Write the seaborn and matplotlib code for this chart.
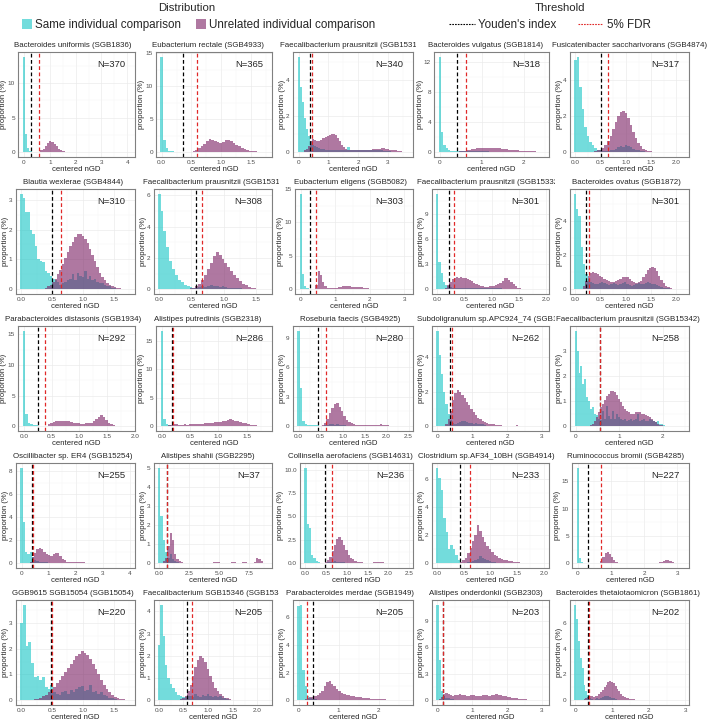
import numpy as np
import pandas as pd
import matplotlib
matplotlib.use("Agg")
import matplotlib.pyplot as plt
import seaborn as sns
from matplotlib.patches import Patch
from matplotlib.lines import Line2D
from matplotlib.ticker import AutoMinorLocator
from matplotlib.transforms import Bbox, TransformedBbox

titles = [
    "Bacteroides uniformis (SGB1836)", "Eubacterium rectale (SGB4933)",
    "Faecalibacterium prausnitzii (SGB15316)", "Bacteroides vulgatus (SGB1814)",
    "Fusicatenibacter saccharivorans (SGB4874)",
    "Blautia wexlerae (SGB4844)", "Faecalibacterium prausnitzii (SGB15318)",
    "Eubacterium eligens (SGB5082)", "Faecalibacterium prausnitzii (SGB15332)",
    "Bacteroides ovatus (SGB1872)",
    "Parabacteroides distasonis (SGB1934)", "Alistipes putredinis (SGB2318)",
    "Roseburia faecis (SGB4925)", "Subdoligranulum sp.APC924_74 (SGB15286)",
    "Faecalibacterium prausnitzii (SGB15342)",
    "Oscillibacter sp. ER4 (SGB15254)", "Alistipes shahii (SGB2295)",
    "Collinsella aerofaciens (SGB14631)", "Clostridium sp.AF34_10BH (SGB4914)",
    "Ruminococcus bromii (SGB4285)",
    "GGB9615 SGB15054 (SGB15054)", "Faecalibacterium SGB15346 (SGB15346)",
    "Parabacteroides merdae (SGB1949)", "Alistipes onderdonkii (SGB2303)",
    "Bacteroides thetaiotaomicron (SGB1861)",
]
n_pairs = [370, 365, 340, 318, 317, 310, 308, 303, 301, 301, 292, 286, 280, 262, 258,
           255, 37, 236, 233, 227, 220, 205, 205, 203, 202]
youden = [0.28, 0.35, 0.40, 0.40, 0.50, 0.50, 0.57, 0.28, 0.22, 0.22, 0.25, 0.18, 0.45, 0.35, 0.55,
          0.40, 0.65, 0.47, 0.42, 0.30, 0.48, 0.57, 0.35, 0.15, 0.35]
fdr = [0.60, 0.60, 0.45, 0.63, 0.65, 0.65, 0.67, 0.45, 0.30, 0.28, 0.38, 0.19, 0.62, 0.42, 0.56,
       0.41, 0.66, 0.63, 0.62, 0.70, 0.49, 0.67, 0.20, 0.16, 0.36]
x_lo = [-0.22, -0.09, -0.19, -0.13, -0.11, -0.09, -0.08, -0.16, -0.1, -0.1, -0.1, -0.1, -0.13, -0.16, -0.13,
        -0.21, -0.45, -0.13, -0.1, -0.16, -0.09, -0.1, -0.14, -0.16, -0.15]
x_hi = [4.3, 1.85, 3.85, 2.6, 2.25, 1.85, 1.75, 3.25, 2.05, 2.25, 2.0, 1.95, 2.6, 3.2, 2.6,
        4.2, 9.4, 2.6, 2.1, 3.35, 1.85, 2.3, 2.85, 3.2, 3.1]
x_ticks = [
    [0, 1, 2, 3, 4], [0, 0.5, 1, 1.5], [0, 1, 2, 3], [0, 1, 2], [0, 0.5, 1, 1.5, 2],
    [0, 0.5, 1, 1.5], [0, 0.5, 1, 1.5], [0, 1, 2, 3], [0, 0.5, 1, 1.5, 2], [0, 0.5, 1, 1.5, 2],
    [0, 0.5, 1, 1.5, 2], [0, 0.5, 1, 1.5], [0, 0.5, 1, 1.5, 2, 2.5], [0, 1, 2, 3], [0, 1, 2],
    [0, 1, 2, 3, 4], [0, 2.5, 5, 7.5], [0, 0.5, 1, 1.5, 2, 2.5], [0, 0.5, 1, 1.5, 2], [0, 1, 2, 3],
    [0, 0.5, 1, 1.5], [0, 0.5, 1, 1.5, 2], [0, 1, 2], [0, 1, 2, 3], [0, 1, 2, 3],
]
y_ticks = [
    [0, 5, 10], [0, 5, 10, 15], [0, 2, 4], [0, 4, 8, 12], [0, 2, 4],
    [0, 1, 2, 3], [0, 2, 4, 6], [0, 5, 10, 15], [0, 3, 6, 9], [0, 2, 4],
    [0, 5, 10, 15], [0, 5, 10, 15], [0, 3, 6, 9], [0, 2, 4], [0, 1, 2, 3],
    [0, 2, 4, 6, 8], [0, 1, 2, 3, 4, 5], [0, 2.5, 5, 7.5, 10], [0, 2, 4, 6], [0, 5, 10, 15],
    [0, 1, 2, 3], [0, 1, 2, 3, 4], [0, 2, 4, 6], [0, 3, 6, 9], [0, 2, 4, 6],
]
bin_widths = [0.085, 0.045, 0.07, 0.055, 0.05, 0.04, 0.045, 0.065, 0.04, 0.045,
              0.045, 0.045, 0.055, 0.065, 0.045, 0.085, 0.19, 0.055, 0.045, 0.065,
              0.045, 0.05, 0.06, 0.065, 0.05]
unrel_offset = [6, 10, 3, 8, 8, 10, 11, 6, 4, 4, 9, 3, 10, 4, 8, 4, 2, 9, 10, 10, 5, 9, 2, 1, 4]

# proportion (%) per bin, same-individual pairs (first bin centred on 0)
same_h = [
    [13.8, 2.7, 0.6, 0.2, 0.1, 0.05],
    [14.5, 1.9, 0.6, 0.25, 0.15, 0.1, 0.05, 0.05, 0.05, 0.05, 0.05, 0.05, 0.1, 0.1, 0.1, 0.1, 0.1, 0.1, 0.1, 0.1, 0.05, 0.05],
    [5.3, 3.6, 2.8, 1.9, 1.3, 0.9, 0.6, 0.4, 0.35, 0.3, 0.25, 0.2, 0.2, 0.15, 0.15, 0.1, 0.1, 0.1, 0.1, 0.1,
     0.1, 0.1, 0.1, 0.1, 0.3, 0.1, 0.1, 0.1, 0.1, 0.1, 0.15, 0.1, 0.1, 0.1, 0.1, 0.1, 0.1, 0.15, 0.1, 0.1,
     0.1, 0.05, 0.05, 0.05, 0.05],
    [12.7, 2.7, 1.0, 0.5, 0.3, 0.2, 0.15, 0.1, 0.1, 0.1, 0.1, 0.1, 0.1, 0.1, 0.1, 0.1, 0.1, 0.1, 0.1, 0.1,
     0.1, 0.1, 0.05, 0.05, 0.05, 0.05],
    [5.1, 5.3, 3.6, 2.4, 1.4, 0.9, 0.55, 0.4, 0.25, 0.15, 0.1, 0.08, 0.05, 0.05, 0.1, 0.15, 0.2, 0.3, 0.35, 0.3,
     0.4, 0.35, 0.3, 0.2, 0.15, 0.1, 0.08, 0.05],
    [3.2, 3.05, 2.6, 2.6, 2.0, 1.85, 1.45, 1.0, 0.95, 0.9, 0.6, 0.55, 0.45, 0.35, 0.3, 0.25, 0.15, 0.2, 0.25, 0.3,
     0.35, 0.5, 0.3, 0.55, 0.45, 0.4, 0.6, 0.35, 0.45, 0.3, 0.35, 0.25, 0.2, 0.2, 0.15, 0.1, 0.1, 0.05, 0.05],
    [6.1, 5.0, 3.7, 2.7, 1.8, 1.3, 0.9, 0.6, 0.45, 0.3, 0.2, 0.15, 0.1, 0.1, 0.15, 0.2, 0.15, 0.2, 0.25, 0.2,
     0.2, 0.15, 0.2, 0.15, 0.1, 0.1, 0.1, 0.05, 0.05],
    [14.3, 2.3, 0.5, 0.15, 0.05],
    [11.4, 3.2, 1.9, 0.9, 0.5, 0.35, 0.25, 0.2, 0.15, 0.15, 0.1, 0.1, 0.1, 0.1, 0.1, 0.1, 0.1, 0.1, 0.1, 0.1,
     0.1, 0.1, 0.1, 0.1, 0.1, 0.1, 0.1, 0.1, 0.1, 0.1, 0.05, 0.05],
    [5.6, 4.7, 4.3, 2.5, 1.5, 0.9, 0.6, 0.4, 0.35, 0.3, 0.3, 0.35, 0.4, 0.35, 0.3, 0.25, 0.3, 0.35, 0.3, 0.25,
     0.3, 0.35, 0.4, 0.3, 0.25, 0.2, 0.25, 0.3, 0.35, 0.3, 0.3, 0.35, 0.4, 0.35, 0.3, 0.3, 0.25, 0.2, 0.15, 0.1,
     0.1, 0.05],
    [15.6, 2.0, 0.6, 0.3, 0.2, 0.15, 0.1, 0.05, 0.05, 0.05],
    [16.8, 1.2, 0.4, 0.2, 0.1, 0.05],
    [9.7, 3.9, 0.5, 0.2, 0.1, 0.15, 0.15, 0.1, 0.1, 0.05, 0.05, 0.1, 0.15, 0.2, 0.2, 0.15, 0.2, 0.15, 0.1, 0.1, 0.05],
    [5.5, 4.1, 3.0, 2.0, 1.3, 0.7, 0.35, 0.2, 0.15, 0.2, 0.25, 0.3, 0.3, 0.25, 0.2, 0.2, 0.15, 0.2, 0.15, 0.1,
     0.1, 0.05],
    [3.8, 3.0, 2.1, 2.4, 1.7, 1.9, 1.15, 1.0, 0.7, 0.75, 0.5, 0.45, 0.3, 0.25, 0.6, 0.3, 0.8, 0.4, 0.3, 0.6,
     0.3, 0.5, 0.35, 0.3, 0.25, 0.3, 0.2, 0.25, 0.3, 0.2, 0.25, 0.3, 0.5, 0.2, 0.25, 0.3, 0.2, 0.2, 0.3, 0.25,
     0.2, 0.15, 0.2, 0.1, 0.1, 0.05],
    [8.3, 3.6, 1.0, 0.8, 1.0, 0.5, 0.3, 0.2, 0.1, 0.15, 0.1, 0.1, 0.05, 0.05],
    [5.0, 2.5, 1.2, 0.6, 0.3, 0.5, 0.2, 0.1, 0.05],
    [10.2, 4.2, 3.8, 0.9, 0.6, 0.2, 0.1, 0.05, 0.05, 0.05, 0.1, 0.15, 0.1, 0.2, 0.1, 0.15, 0.1, 0.1, 0.05],
    [6.8, 6.1, 5.2, 3.2, 2.2, 1.0, 1.3, 1.0, 0.6, 0.2, 0.05, 0.05, 0.05, 0.1, 0.1, 0.15, 0.2, 0.3, 0.5, 0.4,
     0.3, 0.2, 0.15, 0.1, 0.1, 0.05],
    [17.5, 1.0, 0.2, 0.05],
    [3.0, 3.7, 2.1, 2.25, 1.45, 0.9, 0.95, 0.8, 0.9, 0.5, 0.45, 0.6, 0.3, 0.25, 0.2, 0.3, 0.35, 0.25, 0.4, 0.3,
     0.45, 0.5, 0.55, 0.35, 0.4, 0.6, 0.3, 0.35, 0.25, 0.3, 0.2, 0.15, 0.1, 0.1, 0.05],
    [2.5, 4.3, 2.9, 1.6, 1.0, 0.75, 0.55, 0.35, 0.25, 0.2, 0.15, 0.15, 0.2, 0.2, 0.15, 0.3, 0.2, 0.15, 0.25, 0.2,
     0.3, 0.2, 0.15, 0.2, 0.15, 0.2, 0.1, 0.1, 0.05],
    [6.8, 6.9, 2.2, 1.0, 0.3, 0.15, 0.1, 0.1, 0.05, 0.05],
    [10.8, 4.5, 1.0, 0.5, 0.3, 0.2, 0.1, 0.1, 0.05, 0.05],
    [7.4, 6.3, 4.6, 3.3, 2.5, 1.2, 0.7, 0.4, 0.2, 0.1, 0.05, 0.1, 0.15, 0.1, 0.2, 0.25, 0.3, 0.35, 0.3, 0.25,
     0.2, 0.15, 0.1, 0.05],
]

# proportion (%) per bin, unrelated pairs (starting at bin unrel_offset)
unrel_h = [
    [0.05, 0.1, 0.25, 0.5, 0.9, 1.3, 1.6, 1.55, 1.25, 0.85, 0.5, 0.3, 0.18, 0.1, 0.06, 0.04, 0.03, 0.02, 0.02, 0.01],
    [0.05, 0.1, 0.2, 0.35, 0.6, 0.9, 1.3, 1.7, 2.0, 1.9, 1.7, 1.5, 1.4, 1.6, 1.8, 1.9, 1.7, 1.4, 1.1, 0.9,
     0.7, 0.5, 0.35, 0.25, 0.2, 0.15, 0.1, 0.08, 0.05, 0.03, 0.02],
    [0.1, 0.2, 0.35, 0.6, 0.75, 0.7, 0.65, 0.6, 0.7, 0.8, 0.85, 0.9, 0.95, 1.0, 1.0, 0.95, 0.8, 0.6, 0.4, 0.3,
     0.2, 0.15, 0.15, 0.12, 0.12, 0.1, 0.1, 0.1, 0.1, 0.12, 0.15, 0.15, 0.15, 0.18, 0.2, 0.2, 0.2, 0.25, 0.25, 0.2,
     0.2, 0.15, 0.15, 0.12, 0.1, 0.08, 0.05, 0.03],
    [0.05, 0.1, 0.15, 0.2, 0.3, 0.35, 0.4, 0.45, 0.5, 0.5, 0.55, 0.55, 0.6, 0.6, 0.6, 0.55, 0.55, 0.5, 0.5, 0.45,
     0.4, 0.4, 0.35, 0.3, 0.3, 0.25, 0.25, 0.2, 0.2, 0.15, 0.15, 0.12, 0.1, 0.1, 0.08, 0.06, 0.05, 0.04, 0.03, 0.02],
    [0.05, 0.1, 0.15, 0.25, 0.4, 0.6, 0.9, 1.3, 1.7, 2.0, 2.25, 2.3, 2.2, 1.9, 1.5, 1.1, 0.8, 0.5, 0.35, 0.2,
     0.12, 0.08, 0.05, 0.03, 0.02],
    [0.05, 0.1, 0.15, 0.25, 0.35, 0.5, 0.65, 0.85, 1.05, 1.25, 1.45, 1.6, 1.75, 1.85, 1.85, 1.8, 1.7, 1.55, 1.35, 1.15,
     0.95, 0.75, 0.55, 0.4, 0.3, 0.2, 0.15, 0.1, 0.07, 0.05, 0.03, 0.02],
    [0.05, 0.1, 0.2, 0.35, 0.6, 0.9, 1.3, 1.7, 2.1, 2.35, 2.2, 1.95, 1.7, 1.4, 1.15, 0.9, 0.7, 0.5, 0.35, 0.25,
     0.15, 0.1, 0.06, 0.03],
    [0.1, 0.6, 2.8, 2.2, 1.1, 0.5, 0.25, 0.15, 0.15, 0.2, 0.25, 0.35, 0.4, 0.5, 0.5, 0.5, 0.45, 0.4, 0.35, 0.35,
     0.3, 0.3, 0.25, 0.2, 0.15, 0.1, 0.08, 0.05, 0.03, 0.02],
    [0.2, 0.5, 0.9, 1.2, 1.4, 1.5, 1.4, 1.45, 1.3, 1.35, 1.2, 1.1, 1.0, 0.8, 0.6, 0.5, 0.4, 0.35, 0.3, 0.3,
     0.35, 0.4, 0.4, 0.45, 0.6, 0.8, 1.0, 1.3, 1.3, 1.15, 0.9, 0.6, 0.35, 0.2, 0.1, 0.05],
    [0.2, 0.5, 0.8, 0.95, 1.0, 0.95, 0.9, 0.8, 0.7, 0.6, 0.55, 0.5, 0.45, 0.45, 0.5, 0.55, 0.6, 0.7, 0.72, 0.7,
     0.6, 0.5, 0.4, 0.35, 0.4, 0.5, 0.7, 0.9, 1.1, 1.25, 1.3, 1.25, 1.05, 0.8, 0.55, 0.35, 0.2, 0.12, 0.06, 0.03],
    [0.1, 0.4, 0.6, 0.7, 0.8, 0.85, 0.9, 0.9, 0.85, 0.8, 0.7, 0.6, 0.5, 0.45, 0.4, 0.4, 0.45, 0.5, 0.6, 0.8,
     1.1, 1.5, 1.8, 1.5, 1.0, 0.6, 0.35, 0.2, 0.1, 0.05, 0.03],
    [0.2, 0.3, 0.35, 0.35, 0.3, 0.3, 0.35, 0.3, 0.35, 0.4, 0.35, 0.4, 0.45, 0.4, 0.5, 0.55, 0.5, 0.6, 0.7, 0.75,
     0.8, 0.9, 1.0, 1.1, 1.2, 1.1, 1.0, 0.9, 0.7, 0.6, 0.5, 0.4, 0.3, 0.2, 0.15, 0.1, 0.05],
    [0.1, 0.3, 0.7, 1.3, 1.9, 2.3, 2.4, 2.0, 1.5, 1.0, 0.6, 0.4, 0.3, 0.2, 0.15, 0.12, 0.1, 0.1, 0.1, 0.08,
     0.08, 0.1, 0.12, 0.15, 0.18, 0.15, 0.1, 0.08, 0.06, 0.05, 0.04, 0.03],
    [0.1, 0.4, 0.9, 1.5, 1.9, 2.1, 2.0, 1.8, 1.6, 1.4, 1.2, 1.0, 0.8, 0.65, 0.5, 0.4, 0.3, 0.25, 0.2, 0.15,
     0.12, 0.1, 0.08, 0.06, 0.05, 0.04, 0.03, 0.03, 0.03, 0.03, 0.04, 0.05, 0.04, 0.03],
    [0.05, 0.1, 0.2, 0.35, 0.55, 0.75, 0.9, 1.05, 1.2, 1.3, 1.4, 1.4, 1.35, 1.25, 1.1, 0.95, 0.8, 0.7, 0.6, 0.55,
     0.5, 0.5, 0.5, 0.55, 0.55, 0.55, 0.5, 0.5, 0.45, 0.4, 0.35, 0.3, 0.2, 0.15, 0.1, 0.06, 0.03],
    [0.1, 0.5, 0.9, 1.2, 1.3, 1.25, 1.0, 0.8, 0.7, 0.65, 0.8, 0.9, 0.85, 0.6, 0.4, 0.25, 0.15, 0.1, 0.1, 0.08,
     0.08, 0.1, 0.1, 0.08, 0.06, 0.05, 0.04, 0.03, 0.05, 0.04, 0.03, 0.02],
    [0.1, 0.3, 0.9, 1.6, 1.2, 0.5, 0.2, 0.1, 0.05, 0.03, 0.03, 0.02, 0.02, 0.02, 0.02, 0.02, 0.02, 0.02, 0.02, 0.02,
     0.02, 0.02, 0.04, 0.06, 0.04, 0.02, 0.02, 0.02, 0.02, 0.03, 0.06, 0.04, 0.02, 0.02, 0.03, 0.06, 0.04, 0.02,
     0.03, 0.03, 0.08, 0.25, 0.2, 0.1],
    [0.1, 0.3, 0.7, 1.3, 2.0, 2.6, 2.8, 2.5, 2.0, 1.4, 0.9, 0.6, 0.4, 0.25, 0.15, 0.1, 0.08, 0.06, 0.05, 0.05,
     0.06, 0.08, 0.12, 0.15, 0.12, 0.08, 0.05, 0.04, 0.03, 0.02, 0.02, 0.02],
    [0.1, 0.2, 0.4, 0.7, 1.1, 1.6, 2.0, 2.7, 2.3, 1.9, 1.5, 1.2, 1.0, 0.8, 0.6, 0.5, 0.4, 0.3, 0.25, 0.2,
     0.18, 0.15, 0.12, 0.1, 0.08, 0.05, 0.03, 0.02],
    [0.1, 0.5, 1.2, 1.9, 2.1, 1.7, 1.1, 0.6, 0.3, 0.1, 0.05, 0.03, 0.02, 0.02, 0.02, 0.02, 0.02, 0.02, 0.02, 0.02,
     0.02, 0.02, 0.02, 0.02, 0.02, 0.02, 0.02, 0.05, 0.15, 0.3, 0.5, 0.6, 0.55, 0.4, 0.25, 0.1, 0.05],
    [0.05, 0.05, 0.1, 0.15, 0.2, 0.3, 0.4, 0.5, 0.65, 0.8, 0.95, 1.1, 1.25, 1.4, 1.55, 1.7, 1.8, 1.9, 1.85, 1.75,
     1.6, 1.4, 1.2, 1.0, 0.8, 0.6, 0.45, 0.3, 0.2, 0.12, 0.08, 0.05, 0.03],
    [0.05, 0.1, 0.2, 0.4, 0.7, 1.1, 1.5, 1.8, 2.0, 1.9, 1.7, 1.4, 1.1, 0.8, 0.55, 0.4, 0.3, 0.2, 0.12, 0.08,
     0.05, 0.03],
    [0.05, 0.1, 0.15, 0.2, 0.25, 0.3, 0.4, 0.5, 0.7, 1.0, 1.3, 1.4, 1.2, 1.0, 0.8, 0.65, 0.55, 0.45, 0.4, 0.35,
     0.3, 0.28, 0.25, 0.22, 0.2, 0.18, 0.16, 0.14, 0.12, 0.1, 0.1, 0.08, 0.08, 0.06, 0.06, 0.05, 0.04, 0.03, 0.03,
     0.02, 0.02, 0.02],
    [0.1, 0.4, 0.7, 0.8, 0.7, 0.6, 0.5, 0.55, 0.6, 0.65, 0.6, 0.55, 0.5, 0.5, 0.6, 0.55, 0.5, 0.45, 0.5, 0.55,
     0.6, 0.55, 0.5, 0.55, 0.6, 0.65, 0.6, 0.55, 0.5, 0.45, 0.4, 0.35, 0.3, 0.25, 0.2, 0.18, 0.15, 0.12, 0.1,
     0.08, 0.06, 0.05, 0.04, 0.03],
    [0.05, 0.1, 0.2, 0.25, 0.3, 0.3, 0.25, 0.3, 0.35, 0.45, 0.6, 0.8, 1.0, 1.2, 1.4, 1.5, 1.45, 1.3, 1.1, 0.9,
     0.7, 0.5, 0.35, 0.25, 0.2, 0.15, 0.12, 0.1, 0.08, 0.05, 0.03],
]

SAME_COLOR = "#16C5C5"
UNREL_COLOR = "#7A1F63"
W, H = 708, 721
col_left = [2, 140, 279, 418, 556]
col_right = [135, 272, 413, 549, 689]
title_bounds = [0, 142, 279, 416, 555, 708]
title_centers = [73, 208, 350, 486, 626]


def fmt_ticks(ticks):
    if all(float(t).is_integer() for t in ticks):
        return [str(int(t)) for t in ticks]
    return [f"{t:.1f}" for t in ticks]


def main():
    sns.set_style("white")
    plt.rcParams['font.family'] = ['Liberation Sans', 'DejaVu Sans']
    fig = plt.figure(figsize=(W / 100, H / 100), dpi=100)
    renderer = fig.canvas.get_renderer()

    for i in range(25):
        r, c = divmod(i, 5)
        ylabels = fmt_ticks(y_ticks[i])
        nchar = max(len(s) for s in ylabels)
        left = col_left[c] + 11.5 + 2.4 * nchar
        top = 52 + 137 * r
        ax = fig.add_axes([left / W, 1 - (top + 105) / H, (col_right[c] - left) / W, 105 / H])

        bw = bin_widths[i]
        same = same_h[i]
        unrel = unrel_h[i]
        off = unrel_offset[i]
        n_bins = max(len(same), off + len(unrel))
        edges = [-bw / 2 + bw * k for k in range(n_bins + 1)]
        centers = [e + bw / 2 for e in edges[:-1]]
        same_w = np.zeros(n_bins)
        same_w[:len(same)] = same
        unrel_w = np.zeros(n_bins)
        unrel_w[off:off + len(unrel)] = unrel
        df = pd.DataFrame({"nGD": centers + centers,
                           "pct": list(same_w) + list(unrel_w),
                           "type": ["same"] * n_bins + ["unrelated"] * n_bins})

        ax.grid(True, which='major', color='#EBEBEB', lw=0.5)
        ax.grid(True, which='minor', color='#F4F4F4', lw=0.35)
        ax.set_axisbelow(True)
        sns.histplot(data=df[df["type"] == "same"], x="nGD", weights="pct", bins=edges,
                     color=SAME_COLOR, alpha=0.6, linewidth=0, ax=ax)
        sns.histplot(data=df[df["type"] == "unrelated"], x="nGD", weights="pct", bins=edges,
                     color=UNREL_COLOR, alpha=0.6, linewidth=0, ax=ax)
        ax.axvline(youden[i], color='black', ls=(0, (3, 2)), lw=0.9)
        ax.axvline(fdr[i], color='#E02828', ls=(0, (3, 2)), lw=0.9)

        ymax = max(max(same), max(unrel))
        ax.set_ylim(-0.05 * ymax, 1.05 * ymax)
        ax.set_xlim(x_lo[i], x_hi[i])
        ax.set_xticks(x_ticks[i])
        ax.set_xticklabels(fmt_ticks(x_ticks[i]))
        ax.set_yticks(y_ticks[i])
        ax.set_yticklabels(ylabels)
        ax.xaxis.set_minor_locator(AutoMinorLocator(2))
        ax.yaxis.set_minor_locator(AutoMinorLocator(2))
        ax.tick_params(which='major', labelsize=4.6, length=1.6, width=0.4, pad=0.8,
                       color='#333333', labelcolor='#4D4D4D')
        ax.tick_params(which='minor', length=0)
        ax.set_xlabel("centered nGD", fontsize=5.6, labelpad=0.5)
        ax.set_ylabel("proportion (%)", fontsize=5.6, labelpad=0.2)
        for sp in ax.spines.values():
            sp.set_color('#808080')
            sp.set_linewidth(0.8)

        ax.text(0.8, 0.88, f"N={n_pairs[i]}", transform=ax.transAxes, fontsize=6.8,
                ha='center', va='center')

        # panel title: centred; a title wider than its cell starts at the cell edge and is cut
        b0, b1 = title_bounds[c], title_bounds[c + 1]
        t = fig.text(title_centers[c] / W, 1 - (top - 6.5) / H, titles[i], fontsize=5.7,
                     ha='center', va='center')
        bb = t.get_window_extent(renderer)
        if bb.width > (b1 - b0) - 2:
            if c == 4:
                t.set_ha('right')
                t.set_x((W - 1) / W)
                b0 = W - bb.width - 3
            else:
                t.set_ha('left')
                t.set_x((b0 + 1) / W)
        elif bb.x1 > b1:
            t.set_x((title_centers[c] - (bb.x1 - b1) - 1) / W)
        elif bb.x0 < b0:
            t.set_x((title_centers[c] + (b0 - bb.x0) + 1) / W)
        clip = TransformedBbox(Bbox([[b0 / W, 0], [b1 / W, 1]]), fig.transFigure)
        t.set_clip_box(clip)
        t.set_clip_on(True)

    fig.text(187 / W, 1 - 8 / H, "Distribution", fontsize=8.2, ha='center', va='center')
    fig.text(560 / W, 1 - 8 / H, "Threshold", fontsize=8.2, ha='center', va='center')
    dist_handles = [Patch(facecolor=SAME_COLOR, alpha=0.6, lw=0),
                    Patch(facecolor=UNREL_COLOR, alpha=0.6, lw=0)]
    fig.legend(dist_handles, ["Same individual comparison", "Unrelated individual comparison"],
               loc='center', bbox_to_anchor=(199 / W, 1 - 25 / H), ncol=2, frameon=False,
               fontsize=8.4, handlelength=0.8, handleheight=1.0, handletextpad=0.3,
               columnspacing=1.3, borderpad=0)
    thr_handles = [Line2D([], [], color='black', ls=(0, (1.5, 1)), lw=0.8),
                   Line2D([], [], color='#E02828', ls=(0, (1.5, 1)), lw=0.8)]
    fig.legend(thr_handles, ["Youden's index", "5% FDR"],
               loc='center', bbox_to_anchor=(550 / W, 1 - 25 / H), ncol=2, frameon=False,
               fontsize=8.4, handlelength=2.2, handletextpad=0.3, columnspacing=1.8, borderpad=0)

    fig.savefig("out.png", dpi=100)


if __name__ == '__main__':
    main()
